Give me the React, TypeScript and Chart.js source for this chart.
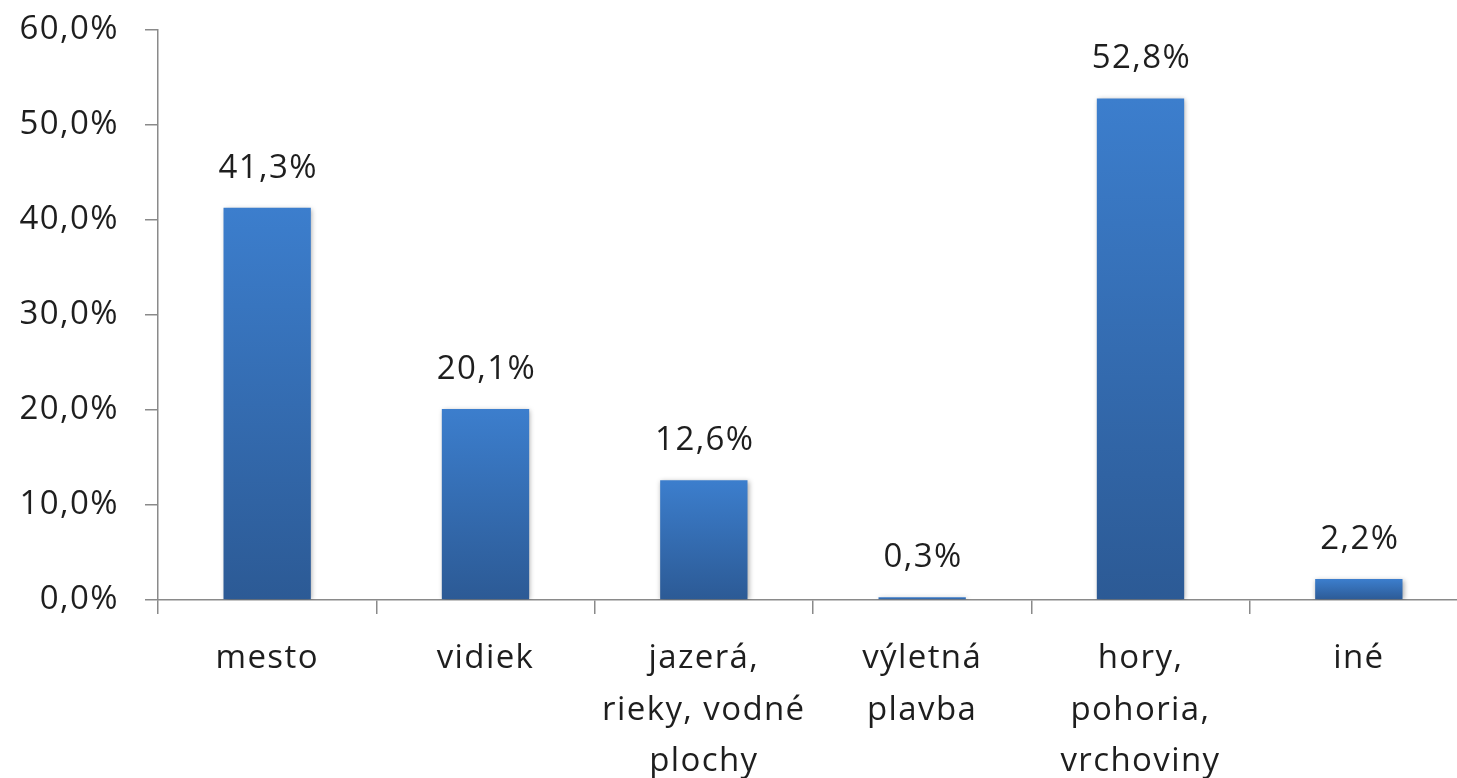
import React, { useEffect, useRef } from 'react';
import { Chart, registerables } from 'chart.js';
Chart.register(...registerables);

const categories: string[][] = [
  ['mesto'],
  ['vidiek'],
  ['jazerá,', 'rieky, vodné', 'plochy'],
  ['výletná', 'plavba'],
  ['hory,', 'pohoria,', 'vrchoviny'],
  ['iné'],
];
const values: number[] = [41.3, 20.1, 12.6, 0.3, 52.8, 2.2];
const yMin = 0;
const yMax = 60;
const yStep = 10;

const FONT = "'Open Sans', sans-serif";
const FONT_SIZE = 33;
const TEXT = '#1e1e1e';
const AXIS = '#8a8a8a';
const SPACING = '1.4px';

const fmt = (v: number) => v.toFixed(1).replace('.', ',') + '%';

const spacingPlugin = {
  id: 'spacing',
  beforeLayout(chart: any) {
    (chart.ctx as any).letterSpacing = SPACING;
  },
  beforeDraw(chart: any) {
    (chart.ctx as any).letterSpacing = SPACING;
  },
};

const shadowPlugin = {
  id: 'barShadow',
  beforeDatasetsDraw(chart: any) {
    const ctx = chart.ctx;
    ctx.save();
    ctx.shadowColor = 'rgba(0,0,0,0.35)';
    ctx.shadowBlur = 5;
    ctx.shadowOffsetX = 1;
    ctx.shadowOffsetY = 1;
  },
  afterDatasetsDraw(chart: any) {
    chart.ctx.restore();
  },
};

const valueLabelPlugin = {
  id: 'valueLabels',
  afterDatasetsDraw(chart: any) {
    const ctx = chart.ctx;
    const meta = chart.getDatasetMeta(0);
    ctx.save();
    ctx.font = `${FONT_SIZE}px ${FONT}`;
    ctx.fillStyle = TEXT;
    ctx.textAlign = 'center';
    ctx.textBaseline = 'alphabetic';
    meta.data.forEach((el: any, i: number) => {
      ctx.fillText(fmt(values[i]), el.x + 1, el.y - 30);
    });
    ctx.restore();
  },
};

export default function App() {
  const ref = useRef<HTMLCanvasElement | null>(null);
  useEffect(() => {
    if (!ref.current) return;
    const chart = new Chart(ref.current, {
      type: 'bar',
      data: {
        labels: categories,
        datasets: [
          {
            data: values,
            barPercentage: 0.4,
            categoryPercentage: 1,
            borderWidth: 0,
            backgroundColor: (c: any) => {
              const ch = c.chart;
              if (!ch.chartArea || !ch.scales.y) return '#3a7bc9';
              const v = c.raw as number;
              const top = ch.scales.y.getPixelForValue(v);
              const bottom = ch.scales.y.getPixelForValue(0);
              if (!isFinite(top) || bottom - top < 1) return '#3b7dcc';
              const g = ch.ctx.createLinearGradient(0, top, 0, bottom);
              g.addColorStop(0, '#3c7ecd');
              g.addColorStop(1, '#2c5a95');
              return g;
            },
          },
        ],
      },
      options: {
        animation: false,
        responsive: false,
        devicePixelRatio: 1,
        layout: { padding: { top: 30, right: 12, left: 0, bottom: 0 } },
        plugins: { legend: { display: false }, tooltip: { enabled: false } },
        scales: {
          x: {
            grid: { offset: true, drawOnChartArea: false, tickLength: 14, color: AXIS, lineWidth: 1.5 },
            border: { color: AXIS, width: 1.5 },
            ticks: {
              font: { family: FONT, size: FONT_SIZE, lineHeight: 1.56 },
              color: TEXT,
              padding: 19,
              maxRotation: 0,
              autoSkip: false,
            },
            afterFit: (s: any) => {
              s.height = 178;
              s.paddingTop = 0;
              s.paddingBottom = 0;
            },
          },
          y: {
            min: yMin,
            max: yMax,
            ticks: {
              stepSize: yStep,
              callback: (v: any) => fmt(Number(v)),
              font: { family: FONT, size: FONT_SIZE },
              color: TEXT,
              padding: 26,
            },
            grid: { drawOnChartArea: false, tickLength: 13, color: AXIS, lineWidth: 1.5 },
            border: { color: AXIS, width: 1.5 },
            afterFit: (s: any) => {
              s.width = 158;
              s.paddingTop = 0;
              s.paddingBottom = 0;
            },
          },
        },
      },
      plugins: [spacingPlugin, shadowPlugin, valueLabelPlugin],
    });
    return () => chart.destroy();
  }, []);
  return (
    <div
      style={{
        position: 'absolute',
        left: 0,
        top: 0,
        width: 1457,
        height: 778,
        overflow: 'hidden',
        background: '#fff',
      }}
    >
      <canvas ref={ref} width={1480} height={778} style={{ display: 'block', width: 1480, height: 778 }} />
    </div>
  );
}
